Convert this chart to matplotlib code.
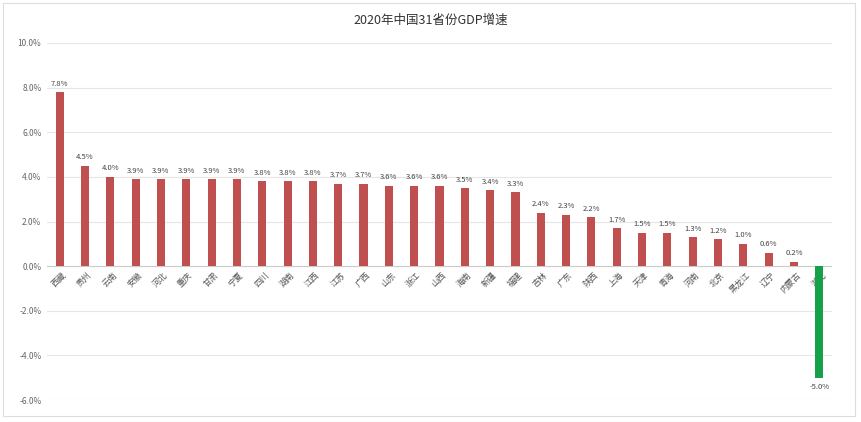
import matplotlib.pyplot as plt
from matplotlib.patches import Rectangle

plt.rcParams['font.family'] = ['Noto Sans CJK SC', 'DejaVu Sans']

# 2020 provincial GDP growth (%)
provinces = ['西藏', '贵州', '云南', '安徽', '河北', '重庆', '甘肃', '宁夏', '四川', '湖南',
             '江西', '江苏', '广西', '山东', '浙江', '山西', '海南', '新疆', '福建', '吉林',
             '广东', '陕西', '上海', '天津', '青海', '河南', '北京', '黑龙江', '辽宁', '内蒙古', '湖北']
growth = [7.8, 4.5, 4.0, 3.9, 3.9, 3.9, 3.9, 3.9, 3.8, 3.8,
          3.8, 3.7, 3.7, 3.6, 3.6, 3.6, 3.5, 3.4, 3.3, 2.4,
          2.3, 2.2, 1.7, 1.5, 1.5, 1.3, 1.2, 1.0, 0.6, 0.2, -5.0]
yticks = [-6, -4, -2, 0, 2, 4, 6, 8, 10]

red = '#c0504f'
green = '#16a04a'

fig = plt.figure(figsize=(8.61, 4.22), dpi=100)
ax = fig.add_axes([47 / 861, 1 - 400 / 422, (832 - 47) / 861, 357 / 422])

# outer frame of the chart card
fig.patches.append(Rectangle((3 / 861, 1 - 416 / 422), 852 / 861, 413 / 422,
                             transform=fig.transFigure, fill=False,
                             edgecolor='#dddddd', linewidth=0.8))

x = list(range(len(provinces)))
colors = [red if v >= 0 else green for v in growth]
ax.bar(x, growth, width=0.32, color=colors, zorder=3)

for i, v in enumerate(growth):
    if v >= 0:
        ax.text(i, v + 0.2, f'{v:.1f}%', ha='center', va='bottom', fontsize=5.5, color='#444444')
    else:
        ax.text(i, v - 0.25, f'{v:.1f}%', ha='center', va='top', fontsize=5.5, color='#444444')

ax.set_xlim(-0.5, 30.5)
ax.set_ylim(-6, 10)
ax.set_yticks(yticks)
ax.set_yticklabels([f'{t:.1f}%' for t in yticks], fontsize=6, color='#666666')
ax.grid(axis='y', color='#e6e6e6', linewidth=0.8, zorder=0)
ax.axhline(0, color='#cccccc', linewidth=0.8, zorder=2)
ax.set_xticks([])
ax.tick_params(axis='y', length=0, pad=4)
for s in ax.spines.values():
    s.set_visible(False)

# category labels hang just below the zero line
for i, name in enumerate(provinces):
    ax.annotate(name, (i, 0), xytext=(1.5, -3), textcoords='offset points',
                rotation=45, fontsize=6, color='#555555', ha='right', va='top',
                rotation_mode='anchor', zorder=1, annotation_clip=False)

fig.text(0.5, 1 - 20 / 422, '2020年中国31省份GDP增速', ha='center', va='center',
         fontsize=9, color='#333333')

fig.savefig('out.png', dpi=100)
